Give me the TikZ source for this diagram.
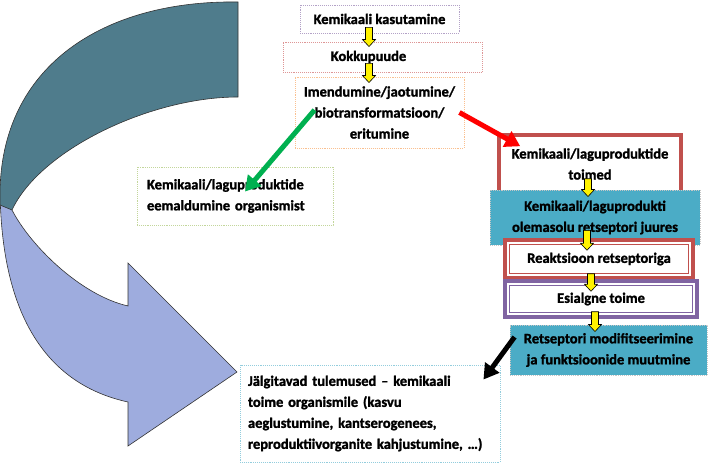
\documentclass[tikz,border=0pt]{standalone}
\usepackage{fontspec}
\setmainfont{Carlito}[BoldFeatures={FakeBold=1.5}]
\usetikzlibrary{calc,arrows.meta}
\definecolor{kaarTume}{RGB}{79,124,140}
\definecolor{kaarHele}{RGB}{158,172,222}
\definecolor{lilla}{RGB}{179,162,199}
\definecolor{roosa}{RGB}{222,150,150}
\definecolor{oranz}{RGB}{250,192,144}
\definecolor{olive}{RGB}{195,214,155}
\definecolor{helesinine}{RGB}{147,205,221}
\definecolor{punane}{RGB}{192,80,77}
\definecolor{violett}{RGB}{128,100,162}
\definecolor{sinine}{RGB}{75,172,198}
\definecolor{roheline}{RGB}{0,176,80}
\tikzset{
	tekst/.style={font=\bfseries\fontsize{14.5}{21}\selectfont, inner sep=1pt, align=center},
	punkt/.style={tekst, draw=#1, densely dotted, line width=0.9pt},
	raam/.style={tekst, draw=#1, line width=3.5pt},
	kast/.style={tekst, fill=sinine, draw=gray!45, densely dotted, line width=0.9pt},
	kaar/.style={draw=black!80, line width=0.6pt},
	kollane/.style={draw=black, line width=0.6pt, fill=yellow},
	nool/.style={line width=5pt, -{Triangle[length=15pt,width=17pt]}}
}
\newcommand\kollanool[2]{\draw[kollane] let \p1=(#1), \p2=(#2) in (\x1-3.5pt,\y1) -- (\x1-3.5pt,\y2+7pt) -- (\x1-6.5pt,\y2+7pt) -- (\x1,\y2) -- (\x1+6.5pt,\y2+7pt) -- (\x1+3.5pt,\y2+7pt) -- (\x1+3.5pt,\y1) -- cycle;}

\begin{document}
\begin{tikzpicture}[x=1pt, y=-1pt]
				\useasboundingbox (0,0) rectangle (710,465);
				
				\draw[kaar, fill=kaarHele] (0,185) .. controls (0,320) and (50,385) .. (128,402) -- (128,446) -- (237,372) -- (128,263) -- (128,306) .. controls (80,295) and (30,245) .. (12,210) -- cycle;
				\draw[kaar, fill=kaarTume] (238,2) .. controls (105,0) and (0,65) .. (0,195) -- (0,205) -- (12,210) .. controls (40,150) and (150,97) .. (238,97) -- cycle;
				
				\node[punkt=lilla, minimum width=159, minimum height=28] (kasutus) at (379.5,19) {Kemikaali kasutamine};
				\node[punkt=roosa, minimum width=199, minimum height=30] (kokku) at (382.5,57) {Kokkupuude\hspace{28pt}};
				\node[punkt=oranz, minimum width=169, minimum height=71] (imend) at (379.5,112.5) {Imendumine/jaotumine/\\biotransformatsioon/\\eritumine};
				\node[punkt=olive, minimum width=196, minimum height=58, text width=176, inner xsep=10, align=left] (eemald) at (235,196) {Kemikaali/laguproduktide\\eemaldumine organismist\\[-9pt]};
				
				\node[raam=punane, minimum width=182, minimum height=58] (toimed) at (590,164) {Kemikaali/laguproduktide\\toimed};
				\node[kast, minimum width=210, minimum height=55] (olemas) at (595,217.5) {Kemikaali/laguprodukti\\olemasolu retseptori juures};
				\node[raam=punane, fill=white, minimum width=188, minimum height=38] (reakts) at (599,259) {Reaktsioon retseptoriga};
				\draw[punane, line width=1pt] ([shift={(6,6)}]reakts.north west) rectangle ([shift={(-6,-6)}]reakts.south east);
				\node[raam=violett, fill=white, minimum width=192, minimum height=36] (esialg) at (601,299) {Esialgne toime};
				\draw[violett, line width=1pt] ([shift={(6,6)}]esialg.north west) rectangle ([shift={(-6,-6)}]esialg.south east);
				\node[kast, minimum width=197, minimum height=50] (retsmod) at (608.5,350) {Retseptori modifitseerimine\\ja funktsioonide muutmine};
				
				\node[punkt=helesinine, minimum width=260, minimum height=97, text width=244, inner xsep=8, align=left] (tulem) at (370,413.5) {Jälgitavad tulemused – kemikaali\\toime organismile (kasvu\\aeglustumine, kantserogenees,\\reproduktiivorganite kahjustumine, …)};
				
				\kollanool{[xshift=-10.5,yshift=6]kasutus.south}{[yshift=-5]kokku.north}
				\kollanool{[xshift=-13.5,yshift=9]kokku.south}{[yshift=-6]imend.north}
				\kollanool{[xshift=-2,yshift=16]toimed.south}{[yshift=-7]olemas.north}
				\kollanool{[xshift=-8,yshift=15]olemas.south}{[yshift=-12]reakts.north}
				\kollanool{[xshift=-8,yshift=6]reakts.south}{[yshift=-12]esialg.north}
				\kollanool{[xshift=-6,yshift=7]esialg.south}{[yshift=-7]retsmod.north}
				
				\draw[nool, roheline] ([xshift=20,yshift=2.5]imend.west) -- ([xshift=10,yshift=-25]eemald.north);
				\draw[nool, red] ([xshift=-5]imend.east) -- ([xshift=23,yshift=-13]toimed.north west);
				\draw[nool, black] ([xshift=5,yshift=13]retsmod.west) -- ([xshift=-17,yshift=-15]tulem.north east);
			\end{tikzpicture}
\end{document}
